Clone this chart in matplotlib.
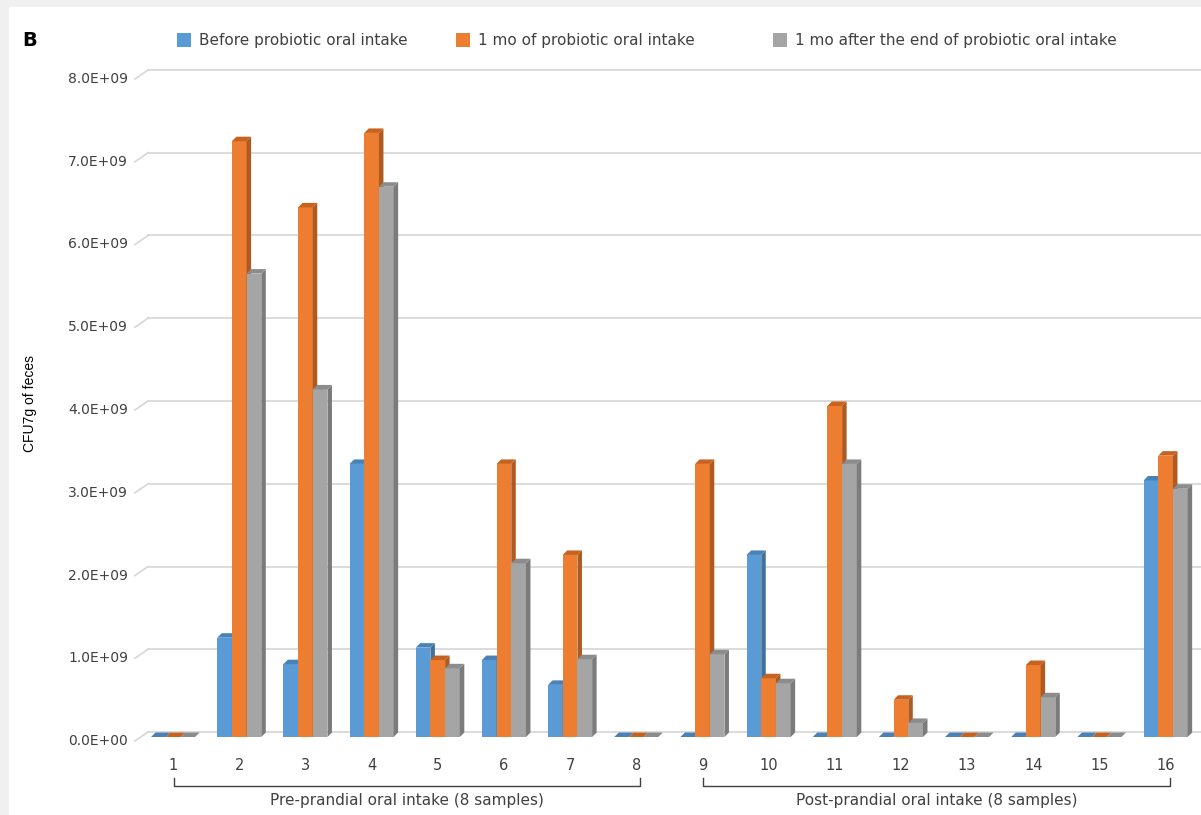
import numpy as np
import matplotlib.pyplot as plt
from matplotlib.patches import Polygon, Rectangle
from matplotlib.lines import Line2D

samples = [str(i) for i in range(1, 17)]
series_names = ["Before probiotic oral intake",
                "1 mo of probiotic oral intake",
                "1 mo after the end of probiotic oral intake"]
before = np.array([0, 1.2, 0.88, 3.3, 1.08, 0.93, 0.63, 0,
                   0, 2.2, 0, 0, 0, 0, 0, 3.1]) * 1e9
during = np.array([0, 7.2, 6.4, 7.3, 0.93, 3.3, 2.2, 0,
                   3.3, 0.71, 4.0, 0.45, 0, 0.87, 0, 3.4]) * 1e9
after = np.array([0, 5.6, 4.2, 6.65, 0.83, 2.1, 0.94, 0,
                  1.0, 0.65, 3.3, 0.17, 0, 0.48, 0, 3.0]) * 1e9
yticks = np.arange(0, 8.01e9, 1e9)
ytick_labels = ["%.1fE+%02d" % (v / 1e9, 9) if v > 0 else "0.0E+00" for v in yticks]
groups = [("Pre-prandial oral intake (8 samples)", 1, 8),
          ("Post-prandial oral intake (8 samples)", 9, 16)]

front = ["#5B9BD5", "#ED7D31", "#A5A5A5"]
side = ["#41719C", "#AE5A21", "#7B7B7B"]
top = ["#4A82B8", "#C8621F", "#8C8C8C"]
text_col = "#404040"

W, H = 1201, 815
fig = plt.figure(figsize=(W / 100, H / 100), dpi=100, facecolor="#f0f0f0")
fig.patches.append(Rectangle((9 / W, 0), 1, (H - 7) / H, transform=fig.transFigure,
                             facecolor="white", edgecolor="none", zorder=-10))

ax_left, ax_w = 140, 1058.7
ax_bot, ax_h = 737, 662
ax = fig.add_axes([ax_left / W, (H - ax_bot) / H, ax_w / W, ax_h / H])
ax.set_zorder(5)
ax.set_xlim(0.5, 16.5)
ax.set_ylim(0, 8e9)
ax.axis("off")

# size of one pixel in data units
px = 16 / ax_w
py = 8e9 / ax_h


def fy(ypix):
    return 1 - ypix / H


def fx(xpix):
    return xpix / W


# back-wall gridlines with the slanted floor edge on the left
for v, lab in zip(yticks, ytick_labels):
    g = v + 5 * py
    ax.add_line(Line2D([0.5 + 8 * px, 16.5 + 4 * px], [g, g], color="#d9d9d9",
                       lw=1.3, clip_on=False, zorder=1))
    ax.add_line(Line2D([0.5 - 5 * px, 0.5 + 8 * px], [g - 9 * py, g], color="#d9d9d9",
                       lw=1.3, clip_on=False, zorder=1))
    ax.text(0.5 - 12 * px, g - 9 * py, lab, ha="right", va="center", fontsize=10,
            color=text_col)

# 3D-looking columns: front face, right side face, top face
w = 0.222
dx, dy = 4.5 * px, 4.5 * py
x = np.arange(1, 17)
z = 2
for i in range(len(x)):
    for k, vals in enumerate([before, during, after]):
        v = vals[i]
        xl = x[i] + (k - 1) * w - w / 2
        xr = xl + w
        ax.add_patch(Rectangle((xl, 0), w, v, facecolor=front[k], edgecolor="none",
                               zorder=z, clip_on=False))
        ax.add_patch(Polygon([(xr, 0), (xr + dx, dy), (xr + dx, v + dy), (xr, v)],
                             closed=True, facecolor=side[k], edgecolor="none",
                             zorder=z, clip_on=False))
        ax.add_patch(Polygon([(xl, v), (xl + dx, v + dy), (xr + dx, v + dy), (xr, v)],
                             closed=True, facecolor=top[k], edgecolor="none",
                             zorder=z, clip_on=False))
        z += 1

# category labels
for xi, s in zip(x, samples):
    ax.text(xi, -28 * py, s, ha="center", va="center", fontsize=10.5, color=text_col)

# group brackets under the axis
for name, a, b in groups:
    xa, xb = a + 0.01, b + 0.06
    ax.plot([xa, xa, xb, xb], [-41 * py, -49 * py, -49 * py, -41 * py], color="#404040",
            lw=1, clip_on=False)
    ax.text((xa + xb) / 2, -64 * py, name, ha="center", va="center", fontsize=11,
            color=text_col)

# legend
leg_x = [177, 456, 773]
for k, (lx, name) in enumerate(zip(leg_x, series_names)):
    fig.patches.append(Rectangle((fx(lx), fy(47)), 14 / W, 14 / H, transform=fig.transFigure,
                                 facecolor=front[k], edgecolor="none"))
    fig.text(fx(lx + 22), fy(40), name, ha="left", va="center", fontsize=11,
             color=text_col)

fig.text(fx(22), fy(40), "B", ha="left", va="center", fontsize=14, fontweight="bold",
         color="black")
fig.text(fx(30), fy(403), "CFU7g of feces", ha="center", va="center", rotation=90,
         fontsize=10, family="Liberation Sans", color="black")

fig.savefig("out.png", dpi=100, facecolor=fig.get_facecolor())
